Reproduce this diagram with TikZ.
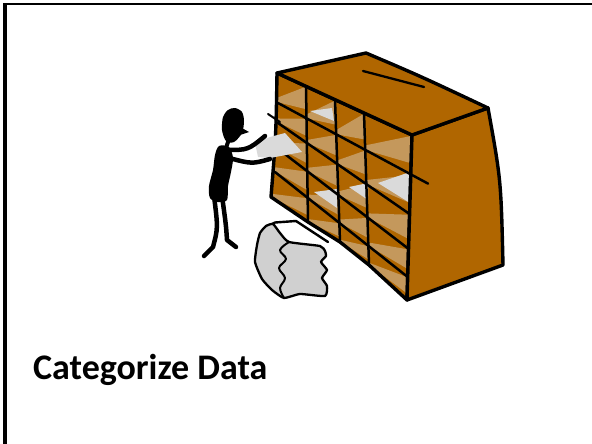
\documentclass[tikz,border=0pt]{standalone}
\usepackage{fontspec}
\setmainfont{Carlito}
\usetikzlibrary{calc}
\definecolor{cabbrown}{RGB}{176,102,0}
\definecolor{shelftan}{RGB}{196,152,92}
\definecolor{papergray}{RGB}{218,218,218}
\definecolor{pilegray}{RGB}{208,208,208}
\begin{document}
\begin{tikzpicture}[x=1pt,y=-1pt,line join=round,line cap=round,
  gridline/.style={line width=2.5pt,draw=black},
  edgeline/.style={line width=3.4pt,draw=black},
  limb/.style={line width=4.5pt,draw=black},
  sheet/.style={fill=papergray},
  title/.style={anchor=base west,inner sep=0pt,font=\fontsize{36}{40}\selectfont\bfseries}]
\useasboundingbox (0,0) rectangle (592,444);
% frame
\draw[line width=3.4pt,line cap=butt] (5,444) -- (5,4);
\draw[line width=2.3pt,line cap=butt] (3.3,4) -- (592,4);
% cabinet geometry
\coordinate (T0) at (277,73);  \coordinate (T1) at (306,86);
\coordinate (T2) at (335,100); \coordinate (T3) at (364,113);
\coordinate (T4) at (412,135);
\coordinate (B0) at (271,197); \coordinate (B1) at (308,222);
\coordinate (B2) at (340,242); \coordinate (B3) at (369,265);
\coordinate (B4) at (407,300);
\coordinate (L0) at (277,73);  \coordinate (R0) at (412,135);
\coordinate (L1) at (278,103); \coordinate (R1) at (412,175);
\coordinate (L2) at (278,123); \coordinate (R2) at (411,215);
\coordinate (L3) at (277,148); \coordinate (R3) at (410,250);
\coordinate (L4) at (275,172); \coordinate (R4) at (409,278);
\coordinate (L5) at (271,197); \coordinate (R5) at (407,300);
\coordinate (K1) at (276,135);
\foreach \i in {0,...,5}{\foreach \j in {0,...,4}{
  \coordinate (P\i\j) at (intersection cs: first line={(L\i)--(R\i)}, second line={(T\j)--(B\j)});}}
\foreach \j in {0,...,4}{\coordinate (P0\j) at (T\j); \coordinate (P5\j) at (B\j);}
% front face fill
\fill[cabbrown] (T0) -- (T4) -- (B4) -- (B3) -- (B2) -- (B1) -- (B0)
  .. controls (K1) .. (T0) -- cycle;
% shelves
\foreach \i [evaluate=\i as \ii using int(\i+1)] in {0,...,4}{
  \foreach \j [evaluate=\j as \jj using int(\j+1)] in {0,...,3}{
    \fill[shelftan] ($(P\i\j)!0.88!(P\ii\j)$) -- ($(P\i\jj)!0.02!(P\ii\jj)$) -- ($(P\i\jj)!0.72!(P\ii\jj)$) -- (P\ii\j) -- cycle;}}
% papers on shelves
\fill[sheet] (310,111) -- (332,108) -- (334,121) -- cycle;
\fill[sheet] (314,192) -- (337,189) -- (337,208) -- cycle;
\fill[sheet] (349,187) -- (368,183) -- (368,200) -- cycle;
\fill[sheet] (378,183) -- (410,172) -- (410,203) -- cycle;
% grid
\foreach \j in {1,2,3}{\draw[gridline] (T\j) -- (B\j);}
\foreach \i in {2,3,4}{\draw[gridline] (L\i) -- (R\i);}
\coordinate (R1x) at ($(L1)!1.12!(R1)$);
\draw[gridline] (L1) -- (R1x);
\draw[line width=2pt] (268,114) -- (280,122);
% front outline
\draw[edgeline] (T0) -- (T4) -- (B4) -- (B3) -- (B2) -- (B1) -- (B0)
  .. controls (K1) .. (T0) -- cycle;
% side face
\filldraw[fill=cabbrown,edgeline] (T4) -- (488,108)
  .. controls (501,180) .. (503,265)
  .. controls (455,283) .. (B4) -- cycle;
\draw[gridline] (R1) -- (R1x);
% top face
\filldraw[fill=cabbrown,edgeline] (T0) -- (366,53)
  .. controls (420,76) .. (488,108)
  -- (T4) -- cycle;
\draw[line width=2.3pt] (363,71) -- (424,87);
% person: paper in hand
\fill[sheet] (255,143) -- (270,137) -- (285,133) -- (302,152) -- (270,158) -- (258,157) -- cycle;
% person
\fill plot[smooth cycle] coordinates {(235,108) (242,112) (244,121) (242,133) (234,142) (226,141) (222,130) (223,117) (228,110)};
\fill (240,127) -- (249,132) -- (240,135) -- cycle;
\draw[line width=4pt] (229,139) -- (226,148);
\fill plot[smooth cycle] coordinates {(219,146) (229,147) (233,158) (231,172) (228,186) (227,200) (218,202) (210,198) (209,186) (213,170) (215,155)};
\draw[limb] (226,150) .. controls (248,150) .. (265,136);
\draw[limb] (229,158) .. controls (252,164) .. (270,159);
\draw[limb] (214,196) .. controls (218,228) .. (213,247) -- (204,256);
\draw[limb] (222,196) .. controls (226,225) .. (227,240) -- (236,247);
% pile of papers
\draw[line width=2.4pt] (266,227) -- (275,222.5) -- (296,221) -- (328,242);
\filldraw[fill=pilegray,draw=black,line width=2.3pt] plot[smooth cycle,tension=0.3] coordinates {
  (260,233) (266,226) (273,224) (280,233) (289,242) (320,246) (325,251) (326,256)
  (321,262) (327,270) (322,278) (327,286) (325,296) (300,294) (284,298) (272,290)
  (262,279) (255,262) (257,245)};
\draw[line width=2pt] plot[smooth,tension=0.6] coordinates {(289,242) (280,250) (286,259) (279,268) (285,278) (280,288) (284,298)};
% caption
\node[title] (caption) at (33,379.5) {Categorize Data};
\end{tikzpicture}
\end{document}
